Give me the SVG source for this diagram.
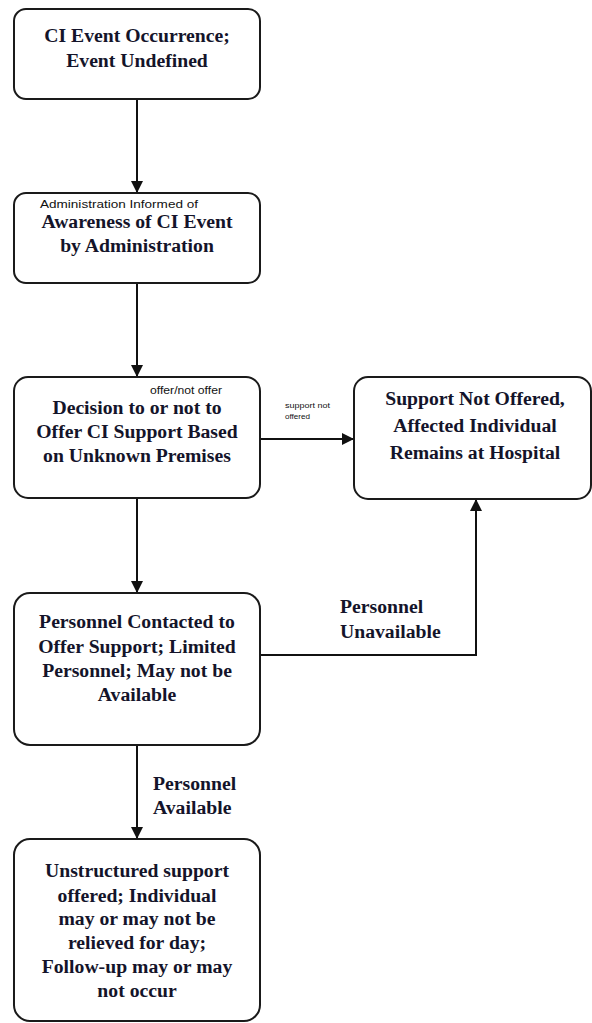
<svg xmlns="http://www.w3.org/2000/svg" width="592" height="1023" viewBox="0 0 592 1023">
<style>
.box{fill:#fff;stroke:#1a1a1a;stroke-width:2}
.t{font-family:"Liberation Serif",serif;font-weight:bold;font-size:19.7px;fill:#14142a;text-anchor:middle}
.tl{font-family:"Liberation Serif",serif;font-weight:bold;font-size:19.7px;fill:#14142a}
.s{font-family:"Liberation Sans",sans-serif;font-size:10px;fill:#111}
.xs{font-family:"Liberation Sans",sans-serif;font-size:7px;fill:#111}
.c{fill:none;stroke:#111;stroke-width:2}
</style>
<defs>
<marker id="ah" markerWidth="12" markerHeight="12" refX="11" refY="6" orient="auto" markerUnits="userSpaceOnUse">
<path d="M0,0 L12,6 L0,12 Z" fill="#111"/>
</marker>
</defs>
<g id="connectors">
<line class="c" x1="137" y1="99" x2="137" y2="192" marker-end="url(#ah)"/>
<line class="c" x1="137" y1="283" x2="137" y2="376" marker-end="url(#ah)"/>
<line class="c" x1="260" y1="439" x2="353" y2="439" marker-end="url(#ah)"/>
<line class="c" x1="137" y1="498" x2="137" y2="592" marker-end="url(#ah)"/>
<polyline class="c" points="260,655 476,655 476,500" marker-end="url(#ah)"/>
<line class="c" x1="137" y1="745" x2="137" y2="838" marker-end="url(#ah)"/>
<text class="xs" x="285" y="408" textLength="45" lengthAdjust="spacingAndGlyphs">support not</text>
<text class="xs" x="285" y="419" textLength="25" lengthAdjust="spacingAndGlyphs">offered</text>
<text class="tl" x="340" y="613">Personnel</text>
<text class="tl" x="340" y="638">Unavailable</text>
<text class="tl" x="153" y="790">Personnel</text>
<text class="tl" x="153" y="814">Available</text>
</g>
<g id="n1">
<rect class="box" x="14" y="9" width="246" height="90" rx="12"/>
<text class="t" x="137" y="42">CI Event Occurrence;</text>
<text class="t" x="137" y="67">Event Undefined</text>
</g>
<g id="n2">
<rect class="box" x="14" y="193" width="246" height="90" rx="12"/>
<text class="s" x="40" y="208" textLength="158" lengthAdjust="spacingAndGlyphs">Administration Informed of</text>
<text class="t" x="137" y="228">Awareness of CI Event</text>
<text class="t" x="137" y="252">by Administration</text>
</g>
<g id="n3">
<rect class="box" x="14" y="377" width="246" height="121" rx="14"/>
<text class="s" x="150" y="394" font-size="9.5" textLength="72" lengthAdjust="spacingAndGlyphs">offer/not offer</text>
<text class="t" x="137" y="414">Decision to or not to</text>
<text class="t" x="137" y="438">Offer CI Support Based</text>
<text class="t" x="137" y="462">on Unknown Premises</text>
</g>
<g id="n4">
<rect class="box" x="354" y="377" width="237" height="122" rx="14"/>
<text class="t" x="475" y="405">Support Not Offered,</text>
<text class="t" x="475" y="432">Affected Individual</text>
<text class="t" x="475" y="459">Remains at Hospital</text>
</g>
<g id="n5">
<rect class="box" x="14" y="593" width="246" height="152" rx="16"/>
<text class="t" x="137" y="628">Personnel Contacted to</text>
<text class="t" x="137" y="653">Offer Support; Limited</text>
<text class="t" x="137" y="677">Personnel; May not be</text>
<text class="t" x="137" y="701">Available</text>
</g>
<g id="n6">
<rect class="box" x="14" y="839" width="246" height="182" rx="16"/>
<text class="t" x="137" y="877">Unstructured support</text>
<text class="t" x="137" y="902">offered; Individual</text>
<text class="t" x="137" y="925">may or may not be</text>
<text class="t" x="137" y="949">relieved for day;</text>
<text class="t" x="137" y="973">Follow-up may or may</text>
<text class="t" x="137" y="997">not occur</text>
</g>
</svg>
